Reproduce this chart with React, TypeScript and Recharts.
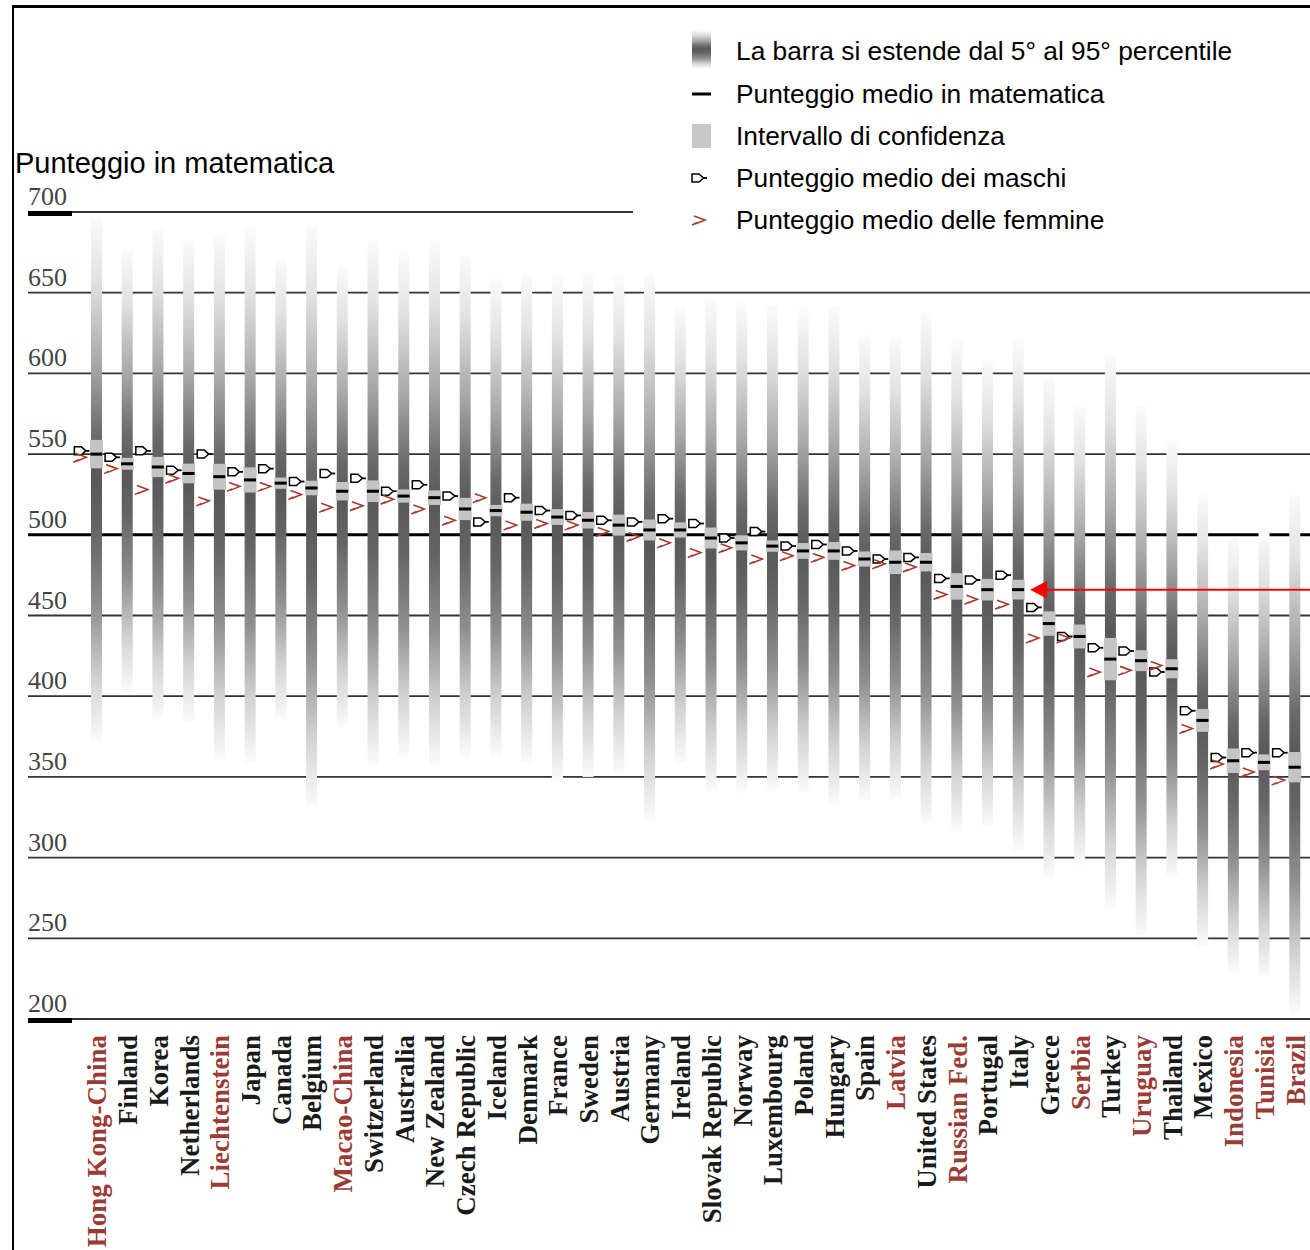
import React from 'react';
import {
  ComposedChart,
  Bar,
  Scatter,
  XAxis,
  YAxis,
  CartesianGrid,
  Legend,
  ReferenceDot,
} from 'recharts';

// Countries, ordered by mean mathematics score
const countries = [
  'Hong Kong-China', 'Finland', 'Korea', 'Netherlands', 'Liechtenstein', 'Japan', 'Canada', 'Belgium',
  'Macao-China', 'Switzerland', 'Australia', 'New Zealand', 'Czech Republic', 'Iceland', 'Denmark', 'France',
  'Sweden', 'Austria', 'Germany', 'Ireland', 'Slovak Republic', 'Norway', 'Luxembourg', 'Poland',
  'Hungary', 'Spain', 'Latvia', 'United States', 'Russian Fed.', 'Portugal', 'Italy', 'Greece',
  'Serbia', 'Turkey', 'Uruguay', 'Thailand', 'Mexico', 'Indonesia', 'Tunisia', 'Brazil',
];

// Partner (non-OECD) countries are labelled in red
const partnerCountries = [
  'Hong Kong-China', 'Liechtenstein', 'Macao-China', 'Latvia', 'Russian Fed.', 'Serbia', 'Uruguay',
  'Indonesia', 'Tunisia', 'Brazil',
];

const meanScore = [
  550, 544, 542, 538, 536, 534, 532, 529, 527, 527, 524, 523, 516, 515, 514, 511, 509, 506, 503, 503,
  498, 495, 493, 490, 490, 485, 483, 483, 468, 466, 466, 445, 437, 423, 422, 417, 385, 360, 359, 356,
];

const maleScore = [
  552, 548, 552, 540, 550, 539, 541, 533, 538, 535, 527, 531, 524, 508, 523, 515, 512, 509, 508, 510,
  507, 498, 502, 493, 494, 490, 485, 486, 473, 472, 475, 455, 437, 430, 428, 415, 391, 362, 365, 365,
];

const femaleScore = [
  548, 541, 528, 535, 521, 530, 530, 525, 517, 518, 522, 516, 509, 523, 506, 507, 506, 502, 499, 495,
  489, 492, 485, 487, 486, 481, 482, 480, 463, 460, 457, 436, 436, 415, 416, 419, 380, 358, 353, 348,
];

// Half-width of the 95% confidence interval around the mean
const ciHalfWidth = [
  8.8, 3.7, 6.3, 6.1, 8.0, 7.8, 3.5, 4.5, 5.7, 6.7, 4.1, 4.5, 6.9, 3.5, 5.3, 4.9, 5.1, 6.5, 6.5, 4.7,
  6.5, 4.7, 3.5, 4.9, 5.5, 4.7, 7.3, 5.7, 8.2, 6.7, 6.1, 7.6, 7.4, 13.1, 6.5, 5.9, 7.1, 7.6, 4.9, 9.4,
];

const percentile5 = [
  372, 403, 386, 384, 361, 359, 386, 332, 381, 357, 363, 357, 362, 363, 359, 347, 350, 352, 323, 359,
  341, 340, 342, 341, 333, 335, 336, 321, 316, 319, 304, 287, 295, 269, 252, 288, 245, 229, 226, 203,
];

const percentile95 = [
  697, 677, 689, 683, 686, 690, 671, 692, 667, 683, 675, 682, 673, 659, 662, 660, 662, 660, 662, 641,
  646, 644, 642, 640, 642, 624, 623, 638, 621, 608, 621, 598, 580, 611, 580, 558, 525, 498, 504, 525,
];

const yTicks = [200, 250, 300, 350, 400, 450, 500, 550, 600, 650, 700];
const highlightedCountry = 'Italy';

const legendLabels = [
  'La barra si estende dal 5° al 95° percentile',
  'Punteggio medio in matematica',
  'Intervallo di confidenza',
  'Punteggio medio dei maschi',
  'Punteggio medio delle femmine',
];

const yTitle = 'Punteggio in matematica';

const data = countries.map((name, i) => ({
  name,
  range: [percentile5[i], percentile95[i]],
  ci: [meanScore[i] - ciHalfWidth[i], meanScore[i] + ciHalfWidth[i]],
  mean: meanScore[i],
  male: maleScore[i],
  female: femaleScore[i],
}));

const highlightedMean = meanScore[countries.indexOf(highlightedCountry)];

const SANS = '"Liberation Sans", Arial, sans-serif';
const SERIF = '"Liberation Serif", "Times New Roman", serif';
const FEMALE_RED = '#a63a30';
const PARTNER_RED = '#9b3b35';

const gradientStops: [string, string][] = [
  ['0%', '#fbfbfb'],
  ['12%', '#e2e2e2'],
  ['28%', '#a8a8a8'],
  ['42%', '#6a6a6a'],
  ['50%', '#585858'],
  ['60%', '#656565'],
  ['74%', '#8e8e8e'],
  ['88%', '#d2d2d2'],
  ['100%', '#fbfbfb'],
];

const GradientDefs = ({ id }: { id: string }) => (
  <defs>
    <linearGradient id={id} x1="0" y1="0" x2="0" y2="1">
      {gradientStops.map(([o, c]) => (
        <stop key={o} offset={o} stopColor={c} />
      ))}
    </linearGradient>
  </defs>
);

const PercentileBar = (props: any) => {
  const { x, y, width, height } = props;
  const top = Math.min(y, y + height);
  return <rect x={x} y={top} width={width} height={Math.abs(height)} fill="url(#pctGrad)" />;
};

const ConfidenceBox = (props: any) => {
  const { x, y, width, height } = props;
  const top = Math.min(y, y + height);
  return <rect x={x} y={top} width={width} height={Math.abs(height)} fill="#c4c4c4" />;
};

const MeanDash = (props: any) => {
  const { cx, cy } = props;
  return <rect x={cx - 6} y={cy - 1.5} width={12} height={3} fill="#000" />;
};

const maleGlyph = (gx: number, gy: number) => (
  <g>
    <path
      d={`M${gx - 7},${gy - 4} h7 l4.5,4 l-4.5,4 h-7 z`}
      fill="#fff"
      stroke="#000"
      strokeWidth={1.5}
    />
    <line x1={gx + 4.5} y1={gy} x2={gx + 8} y2={gy} stroke="#000" strokeWidth={1.8} />
  </g>
);

const femaleGlyph = (gx: number, gy: number) => (
  <path
    d={`M${gx - 6},${gy - 4} L${gx + 5},${gy} L${gx - 5},${gy + 4} M${gx - 8},${gy + 5} L${gx - 3},${gy + 2.5}`}
    fill="none"
    stroke={FEMALE_RED}
    strokeWidth={1.6}
  />
);

const MaleMark = (props: any) => maleGlyph(props.cx - 15, props.cy);
const FemaleMark = (props: any) => femaleGlyph(props.cx - 15, props.cy);

const CountryTick = (props: any) => {
  const { x, y, payload } = props;
  const partner = partnerCountries.includes(payload.value);
  return (
    <text
      transform={`translate(${x + 10},${y + 8}) rotate(-90)`}
      textAnchor="end"
      fontFamily={SERIF}
      fontWeight="bold"
      fontSize={27}
      fill={partner ? PARTNER_RED : '#1a1a1a'}
    >
      {payload.value}
    </text>
  );
};

const ScoreTick = (props: any) => {
  const { x, y, payload } = props;
  return (
    <text x={x} y={y - 7} textAnchor="start" fontFamily={SERIF} fontSize={26} fill="#444">
      {payload.value}
    </text>
  );
};

const gridLine = (props: any) => {
  const { x1, x2, y1, index } = props;
  const value = yTicks[index];
  const isBase = value === 500;
  const isEnd = value === 200 || value === 700;
  return (
    <g key={`grid-${index}`}>
      <line
        x1={x1}
        x2={x2}
        y1={y1}
        y2={y1}
        stroke={isBase ? '#000' : '#333'}
        strokeWidth={isBase ? 3 : 1.8}
      />
      {isEnd && <rect x={x1} y={y1 - 1} width={44} height={5} fill="#000" />}
    </g>
  );
};

const AxisTitle = (props: any) => {
  const { viewBox } = props;
  return (
    <text x={viewBox.x - 12} y={viewBox.y - 39} fontFamily={SANS} fontSize={29} fill="#000">
      {yTitle}
    </text>
  );
};

const LegendPanel = () => {
  const rowY = [33, 76, 118, 160, 202];
  return (
    <svg width={677} height={225}>
      <GradientDefs id="legendGrad" />
      <rect x={59} y={12} width={19} height={38} fill="url(#legendGrad)" />
      <rect x={59} y={rowY[1] - 1.5} width={19} height={3} fill="#000" />
      <rect x={59} y={rowY[2] - 12} width={19} height={24} fill="#c8c8c8" />
      {maleGlyph(66, rowY[3])}
      {femaleGlyph(67, rowY[4])}
      {legendLabels.map((label, i) => (
        <text key={label} x={103} y={rowY[i] + 9} fontFamily={SANS} fontSize={26.3} fill="#000">
          {label}
        </text>
      ))}
    </svg>
  );
};

const ItalyArrow = (props: any) => {
  const { cx, cy } = props;
  const tip = cx + 12;
  return (
    <g>
      <line x1={tip + 14} y1={cy} x2={1310} y2={cy} stroke="#ff0000" strokeWidth={2} />
      <polygon points={`${tip},${cy} ${tip + 17},${cy - 9} ${tip + 17},${cy + 9}`} fill="#ff0000" />
    </g>
  );
};

export default function App() {
  return (
    <div
      style={{
        position: 'absolute',
        left: 0,
        top: 0,
        width: 1310,
        height: 1250,
        background: '#fff',
        overflow: 'hidden',
      }}
    >
      <div
        style={{
          position: 'absolute',
          left: 12,
          top: 5,
          width: 1300,
          height: 1250,
          borderLeft: '2px solid #000',
          borderTop: '3px solid #000',
        }}
      />
      <ComposedChart
        width={1310}
        height={1250}
        data={data}
        margin={{ top: 212, right: 0, bottom: 0, left: 27 }}
        style={{ position: 'absolute', left: 0, top: 0 }}
      >
        <GradientDefs id="pctGrad" />
        <CartesianGrid vertical={false} horizontal={gridLine} />
        <XAxis
          dataKey="name"
          type="category"
          interval={0}
          height={231}
          padding={{ left: 53, right: 0 }}
          axisLine={false}
          tickLine={false}
          tick={<CountryTick />}
        />
        <XAxis xAxisId="ci" dataKey="name" type="category" padding={{ left: 53, right: 0 }} hide />
        <YAxis
          type="number"
          domain={[200, 700]}
          ticks={yTicks}
          interval={0}
          width={1}
          axisLine={false}
          tickLine={false}
          tickSize={0}
          tickMargin={0}
          tick={<ScoreTick />}
          label={{ value: yTitle, content: <AxisTitle /> }}
        />
        <Legend
          layout="vertical"
          align="center"
          verticalAlign="middle"
          content={() => <LegendPanel />}
          wrapperStyle={{
            position: 'absolute',
            left: 633,
            top: 18,
            width: 677,
            height: 225,
            background: '#fff',
          }}
        />
        <Bar dataKey="range" barSize={11} shape={<PercentileBar />} isAnimationActive={false} />
        <Bar
          xAxisId="ci"
          dataKey="ci"
          barSize={13}
          shape={<ConfidenceBox />}
          isAnimationActive={false}
        />
        <Scatter dataKey="mean" shape={<MeanDash />} isAnimationActive={false} />
        <Scatter dataKey="male" shape={<MaleMark />} isAnimationActive={false} />
        <Scatter dataKey="female" shape={<FemaleMark />} isAnimationActive={false} />
        <ReferenceDot
          x={highlightedCountry}
          y={highlightedMean}
          shape={<ItalyArrow />}
        />
      </ComposedChart>
    </div>
  );
}
